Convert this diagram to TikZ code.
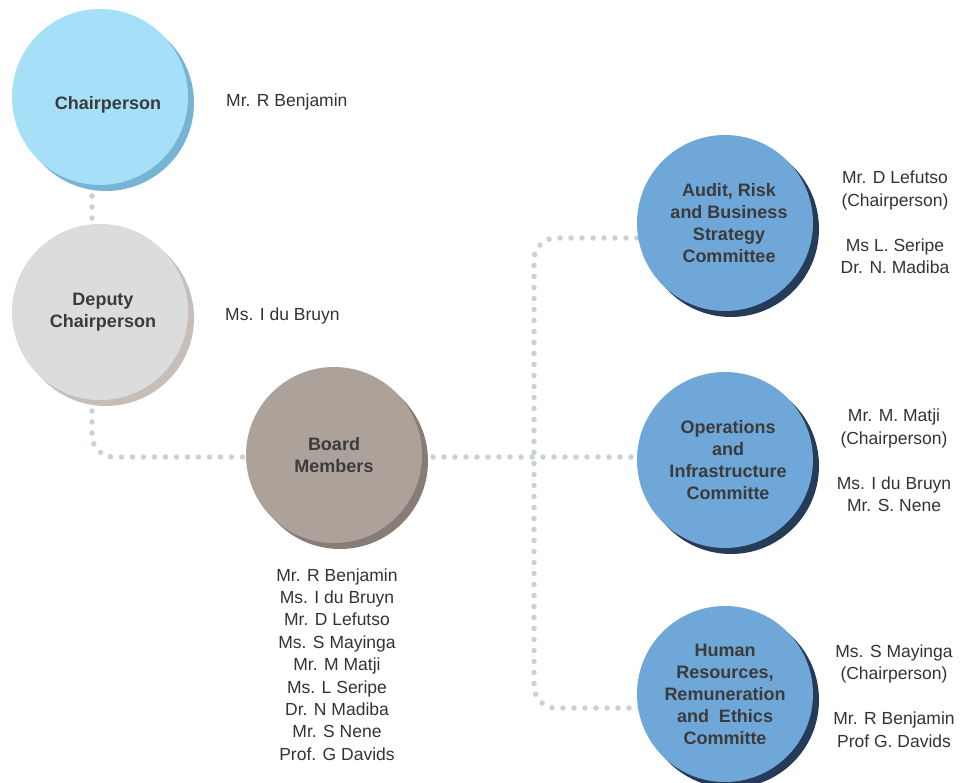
\documentclass[tikz,border=0pt]{standalone}
\usepackage{fontspec}
\setmainfont{Liberation Sans}
\usetikzlibrary{shadows,calc,backgrounds}
\definecolor{chairc}{HTML}{A6DFF8}
\definecolor{chairs}{HTML}{77B3D3}
\definecolor{depc}{HTML}{DCDCDC}
\definecolor{deps}{HTML}{C6BEB9}
\definecolor{boardc}{HTML}{ADA29A}
\definecolor{boards}{HTML}{877D76}
\definecolor{comc}{HTML}{6FA7D9}
\definecolor{coms}{HTML}{253B58}
\definecolor{dotc}{HTML}{C8D2D6}
\definecolor{labc}{HTML}{3B3B3B}
\definecolor{namec}{HTML}{333333}
\begin{document}
\begin{tikzpicture}[x=1pt,y=-1pt,
  role/.style={circle, minimum size=176pt, inner sep=0pt, align=center,
    font=\fontsize{18}{22}\selectfont\bfseries, text=labc},
  sh/.style={copy shadow={shadow xshift=6pt, shadow yshift=-6pt, fill=#1, draw=none}},
  names/.style={font=\fontsize{17.5}{22.4}\selectfont, text=namec, align=center, inner sep=0pt},
  dots/.style={draw=dotc, line width=5.5pt, line cap=round, dash pattern=on 0pt off 11pt}]
\useasboundingbox (0,0) rectangle (960,783);
% circles
\node[role, fill=chairc, sh=chairs] (chair) at (100,97) {\hspace*{16pt}\rule{0pt}{29pt}Chairperson};
\node[role, fill=depc, sh=deps] (deputy) at (100,312) {\hspace*{6pt}Deputy\\\hspace*{6pt}Chairperson};
\node[role, fill=boardc, sh=boards] (board) at (334,455) {Board\\Members};
\node[role, fill=comc, sh=coms] (audit) at (725,223) {\hspace*{8pt}Audit, Risk\\\hspace*{8pt}and Business\\\hspace*{8pt}Strategy\\\hspace*{8pt}Committee};
\node[role, fill=comc, sh=coms] (ops) at (725,460) {\hspace*{6pt}Operations\\\hspace*{6pt}and\\\hspace*{6pt}Infrastructure\\\hspace*{6pt}Committe};
\node[role, fill=comc, sh=coms] (hr) at (725,694) {Human\\Resources,\\Remuneration\\and~~Ethics\\Committe};
% names
\node[names, anchor=west] (chairn) at (226,102) {Mr. R Benjamin};
\node[names, anchor=west] (depn) at (225,316) {Ms. I du Bruyn};
\node[names] (boardn) at (337,664.5) {Mr. R Benjamin\\Ms. I du Bruyn\\Mr. D Lefutso\\Ms. S Mayinga\\Mr. M Matji\\Ms. L Seripe\\Dr. N Madiba\\Mr. S Nene\\Prof. G Davids};
\node[names] (auditn) at (895,222.5) {Mr. D Lefutso\\(Chairperson)\\[22.4pt]Ms L. Seripe\\Dr. N. Madiba};
\node[names] (opsn) at (894,460.5) {Mr. M. Matji\\(Chairperson)\\[22.4pt]Ms. I du Bruyn\\Mr. S. Nene};
\node[names] (hrn) at (894,696) {Ms. S Mayinga\\(Chairperson)\\[22.4pt]Mr. R Benjamin\\Prof G. Davids};
% connectors
\coordinate (jn) at (534,457);
\begin{scope}[on background layer]
\draw[dots] ($(chair.center)+(-8,0)$) -- ($(deputy.center)+(-8,0)$);
\draw[dots, rounded corners=22pt] ($(deputy.center)+(-8,0)$) |- ($(board.center)+(0,2)$);
\draw[dots] ($(board.center)+(0,2)$) -- (jn) -- ($(ops.center)+(0,-3)$);
\draw[dots, rounded corners=22pt] ($(audit.center)+(0,15)$) -| (jn) |- ($(hr.center)+(0,14)$);
\end{scope}
\end{tikzpicture}
\end{document}
